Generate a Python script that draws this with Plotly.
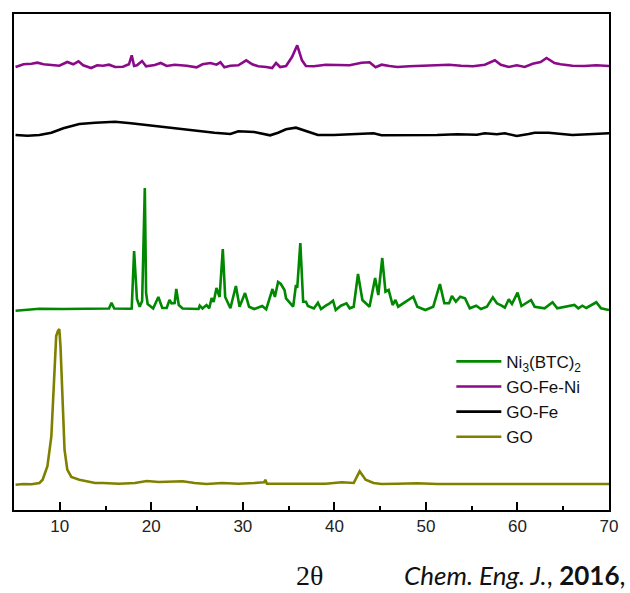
import plotly.graph_objects as go

# ---------------- data (2θ in degrees, intensity in arbitrary units above each pattern's baseline) -------------
ni_x = [5.17, 6.48, 7.78, 10.39, 13.43, 15.38, 15.65, 15.95, 17.56, 17.86, 18.12, 18.43, 18.73, 19.0, 19.29, 19.43,
        19.6, 20.2, 20.77, 21.2, 21.68, 21.99, 22.21, 22.55, 22.73, 23.0, 23.42, 24.73, 25.16, 25.29, 25.59, 26.03,
        26.33, 26.59, 26.81, 27.12, 27.46, 27.81, 28.07, 28.64, 29.24, 29.64, 30.24, 30.68, 31.24, 32.11, 32.55,
        33.24, 33.5, 33.85, 34.15, 34.55, 34.72, 35.5, 35.8, 35.94, 36.28, 36.59, 36.89, 37.11, 37.76, 38.2, 38.54,
        39.06, 39.4, 39.85, 40.15, 40.71, 41.32, 41.67, 42.11, 42.58, 43.06, 43.84, 44.45, 44.8, 45.23, 45.58,
        45.93, 46.36, 46.67, 46.97, 47.75, 48.62, 49.06, 49.93, 50.8, 51.53, 52.01, 52.53, 52.84, 53.27, 53.75,
        54.27, 54.79, 55.49, 56.01, 56.66, 57.31, 57.75, 58.27, 58.62, 59.05, 59.4, 60.01, 60.44, 61.48, 61.88,
        62.96, 63.83, 64.35, 66.22, 66.65, 67.09, 67.52, 68.61, 69.13, 70.0]
ni_y = [-1.7, -0.5, 0.3, 0.0, 0.3, 0.5, 6.3, 0.5, 0.3, 0.5, 58, 10, 2.3, 8, 121, 16,
        5, 0.5, 12, 1, 1, 9, 5.7, 6, 20, 4, 0.5, 0.3, 0.0, 3.3, 0.5, 4,
        0.7, 11, 7, 21, 12, 60, 12, 0.7, 23, 2.3, 16, 2.3, 0.0, 3, -0.3,
        20, 12, 27, 25, 19, 10.7, 2.3, 24, 21, 66, 7.3, 7.3, 3, 0.5, 6.3, 0.0,
        3.3, 5, 8.3, -1, 3.3, 5.7, 0.7, 2.3, 35, 9, 2.3, 31, 14, 51, 17.3,
        19, 4, 9, 2.3, 7.3, 12.3, 2.3, -1, 2.3, 25, 5.7, 5.7, 13, 7.3, 12.3,
        10.7, 0.7, 3.3, 0.0, 2.3, 11.7, 5.7, 3.3, 1.3, 9.7, 5, 16.3, 3, 9, 2.3,
        0.7, 6.7, 0.7, 4, 0.7, 3.3, 1, 6.7, 0.7, -1]

feni_x = [5.17, 6.04, 6.91, 7.56, 8.22, 9.08, 9.95, 10.82, 11.47, 12.04, 12.56, 13.43, 14.08, 14.73, 15.38, 16.04,
          16.9, 17.56, 17.86, 18.12, 18.43, 18.99, 19.43, 20.38, 21.03, 21.68, 22.55, 23.86, 24.94, 25.59, 26.46,
          27.12, 27.55, 27.98, 28.64, 29.51, 30.37, 31.03, 31.68, 32.55, 33.2, 33.63, 34.07, 34.72, 35.37, 35.94,
          36.46, 36.89, 37.76, 39.06, 40.37, 41.67, 42.97, 43.84, 44.5, 45.15, 46.02, 46.88, 48.19, 49.49, 51.23,
          52.53, 53.84, 55.14, 56.44, 57.53, 58.18, 59.05, 59.92, 60.79, 61.66, 62.53, 63.18, 64.05, 64.7, 66.0,
          67.31, 68.61, 70.0]
feni_y = [-1, 1.7, 2.3, 3.3, 1.7, 0.7, 0.3, 4, 1.7, 4.7, 0.7, -2, 0.7, 0.3, 1.3, -1,
          -0.7, 1.7, 10.7, 0, 0.7, 5, -0.3, 1, 3, 0, 1.3, 0.3, -1.3, 1.7, 3,
          1.3, 3.7, -1.3, 0.3, 0.7, 5.7, 1.7, -0.3, -1, -2, 3, -1, 0, 9, 20.7,
          5.7, 0, -0.3, 1.3, 0.7, 0.7, 3.3, 3.7, -1.3, 1.3, 0, -1, -0.3, 0, 1,
          1.3, 0.3, -0.3, 1.3, 5.7, 1.3, -1, 0.7, -1, 2.3, 4, 8, 3, 1.7, 0.3,
          0, 0.7, 0]

fe_x = [5.17, 6.48, 7.78, 9.08, 10.39, 12.13, 13.86, 16.04, 17.77, 19.95, 21.68, 23.42, 25.16, 26.9, 28.64,
        29.51, 31.24, 32.98, 33.85, 34.72, 35.8, 36.89, 38.2, 39.93, 41.67, 42.97, 44.28, 45.15, 46.88, 49.06,
        51.23, 53.4, 55.57, 56.44, 57.75, 58.62, 59.92, 61.22, 61.88, 63.4, 64.7, 66.0, 67.74, 69.04, 70.0]
fe_y = [0, -0.7, 0, 2.3, 6.7, 11, 12.3, 13.3, 11.7, 9.3, 7.7, 6, 4, 2.3, 1,
        3.7, 3, -0.3, 2.3, 5.7, 7.3, 4.3, 0, 0, 0.7, 1.7, 1.7, -0.3, -0.3, -0.3,
        0, 0.7, 0.3, 1.7, 0.7, 1.7, -1, 1, 2.3, 2.3, 1, 0, 0.7, 1, 1.7]

go_x = [5.17, 6.04, 6.91, 7.78, 8.13, 8.65, 9.08, 9.39, 9.61, 9.78, 9.95, 10.08, 10.3, 10.52, 10.82, 11.26,
        12.13, 12.99, 13.86, 14.73, 16.47, 18.21, 19.51, 20.81, 22.12, 23.42, 24.73, 26.03, 27.77, 29.51, 31.24,
        32.33, 32.46, 32.63, 33.85, 35.59, 37.33, 39.06, 40.8, 42.11, 42.76, 43.41, 44.28, 45.15, 46.88, 49.06,
        51.23, 53.4, 55.57, 57.75, 59.92, 62.09, 64.26, 66.44, 68.61, 70.0]
go_y = [-0.7, 0, -0.3, 1, 4.3, 17.7, 47.7, 104, 148, 152.7, 155, 137.7, 81, 34.3, 14.3, 7,
        4.3, 2.7, 1, 1, 0.3, 1, 3, 2, 2.7, 2.7, 1, 0, 1, 0.3, 1,
        1.7, 4.3, 0.3, 0.3, 0.3, 0.3, 0.3, 1.7, 1, 12.7, 4.3, 1, 0, 0.3, 0.7,
        0, 0, 0, 0, 0, 0, 0, 0, 0, 0]

series_names = ["Ni<sub>3</sub>(BTC)<sub>2</sub>", "GO-Fe-Ni", "GO-Fe", "GO"]
x_ticks = [10, 20, 30, 40, 50, 60, 70]

# ---------------- layout / style -------------
offsets = [201, 444, 375, 26]
colors = ["#008800", "#8a0a8a", "#000000", "#808000"]
series = [(ni_x, ni_y), (feni_x, feni_y), (fe_x, fe_y), (go_x, go_y)]

fig = go.Figure()
for (xs, ys), name, off, col in zip(series, series_names, offsets, colors):
    fig.add_trace(go.Scatter(x=xs, y=[v + off for v in ys], mode="lines", name=name,
                             line=dict(color=col, width=2.6)))

fig.update_layout(
    width=630, height=593,
    margin=dict(l=14, r=16, t=14, b=83),
    paper_bgcolor="white", plot_bgcolor="white",
    showlegend=True,
    legend=dict(x=0.735, y=0.335, xanchor="left", yanchor="top",
                bgcolor="rgba(0,0,0,0)", font=dict(family="Liberation Sans, Arial", size=17, color="#111"),
                itemwidth=45, tracegroupgap=0),
    font=dict(family="Liberation Sans, Arial", color="#222"),
)
fig.update_xaxes(range=[5, 70], tickvals=x_ticks, ticktext=[str(t) for t in x_ticks],
                 showline=True, linecolor="black", linewidth=2, mirror=True,
                 ticks="inside", ticklen=8, tickwidth=2, tickcolor="black",
                 minor=dict(ticks="inside", ticklen=4, tickwidth=2, tickcolor="black", dtick=5, tick0=5),
                 tickfont=dict(size=17, color="#222"), showgrid=False, zeroline=False)
fig.update_yaxes(range=[0, 496], showline=True, linecolor="black", linewidth=2, mirror=True,
                 showticklabels=False, ticks="", showgrid=False, zeroline=False)

fig.add_annotation(text="2θ", x=0.497, y=-0.133, xref="paper", yref="paper", showarrow=False,
                   xanchor="center", yanchor="middle",
                   font=dict(family="Liberation Serif, Times New Roman", size=28, color="#111"))
fig.add_annotation(text="<i>Chem. Eng. J.</i>, <b>2016</b>,", x=1.03, y=-0.131, xref="paper", yref="paper",
                   showarrow=False, xanchor="right", yanchor="middle",
                   font=dict(family="Lato, Open Sans", size=26, color="#111"))
fig.write_html("out.html")
